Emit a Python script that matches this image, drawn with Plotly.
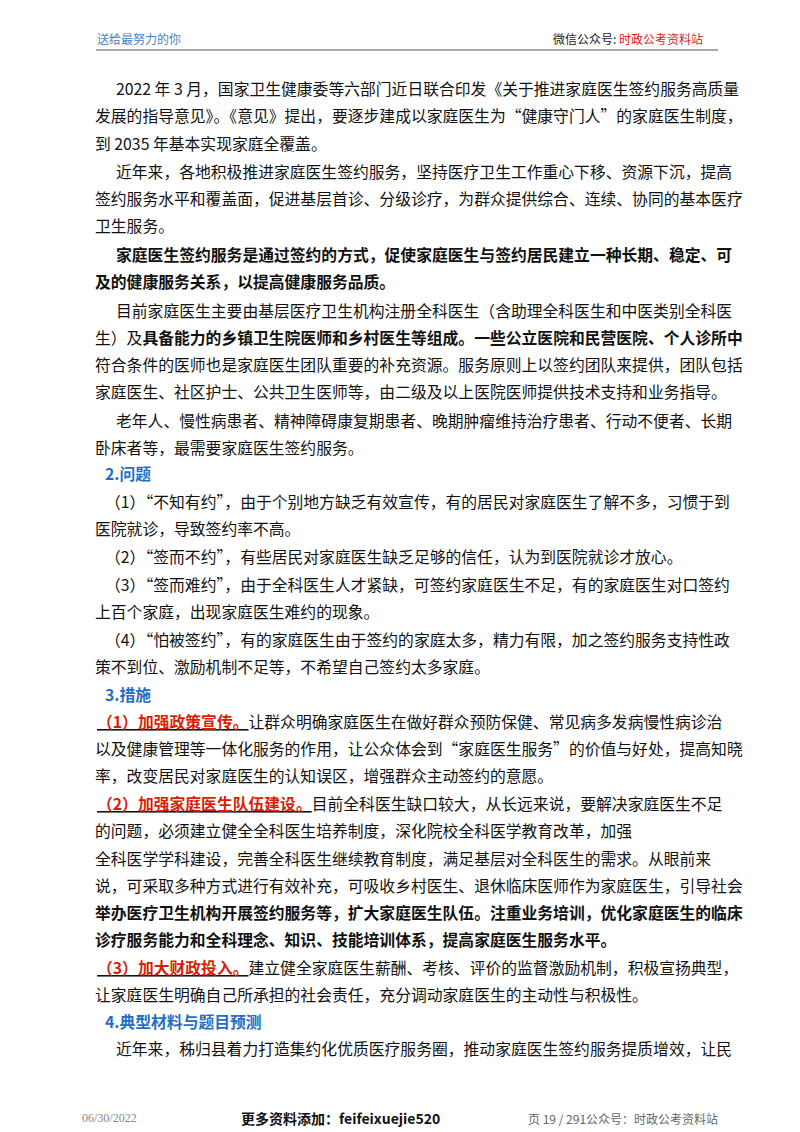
import plotly.graph_objects as go

header_left = "送给最努力的你"
header_right = "微信公众号: <span style='color:#e0201b'>时政公考资料站</span>"
footer_date = "06/30/2022"
footer_mid = "<b>更多资料添加：feifeixuejie520</b>"
footer_right = "页 19 / 291公众号：时政公考资料站"

RED = "#d81e06"
BLUE = "#1f6fc5"

def red(s):
    return f"<b><u><span style='color:{RED}'>{s}</span></u></b>"

body_lines = [
    "2022 年 3 月，国家卫生健康委等六部门近日联合印发《关于推进家庭医生签约服务高质量",
    "发展的指导意见》。《意见》提出，要逐步建成以家庭医生为“健康守门人”的家庭医生制度，",
    "到 2035 年基本实现家庭全覆盖。",
    "近年来，各地积极推进家庭医生签约服务，坚持医疗卫生工作重心下移、资源下沉，提高",
    "签约服务水平和覆盖面，促进基层首诊、分级诊疗，为群众提供综合、连续、协同的基本医疗",
    "卫生服务。",
    "<b>家庭医生签约服务是通过签约的方式，促使家庭医生与签约居民建立一种长期、稳定、可</b>",
    "<b>及的健康服务关系，以提高健康服务品质。</b>",
    "目前家庭医生主要由基层医疗卫生机构注册全科医生（含助理全科医生和中医类别全科医",
    "生）及<b>具备能力的乡镇卫生院医师和乡村医生等组成。一些公立医院和民营医院、个人诊所中</b>",
    "符合条件的医师也是家庭医生团队重要的补充资源。服务原则上以签约团队来提供，团队包括",
    "家庭医生、社区护士、公共卫生医师等，由二级及以上医院医师提供技术支持和业务指导。",
    "老年人、慢性病患者、精神障碍康复期患者、晚期肿瘤维持治疗患者、行动不便者、长期",
    "卧床者等，最需要家庭医生签约服务。",
    f"<b><span style='color:{BLUE}'>2.问题</span></b>",
    "（1）“不知有约”，由于个别地方缺乏有效宣传，有的居民对家庭医生了解不多，习惯于到",
    "医院就诊，导致签约率不高。",
    "（2）“签而不约”，有些居民对家庭医生缺乏足够的信任，认为到医院就诊才放心。",
    "（3）“签而难约”，由于全科医生人才紧缺，可签约家庭医生不足，有的家庭医生对口签约",
    "上百个家庭，出现家庭医生难约的现象。",
    "（4）“怕被签约”，有的家庭医生由于签约的家庭太多，精力有限，加之签约服务支持性政",
    "策不到位、激励机制不足等，不希望自己签约太多家庭。",
    f"<b><span style='color:{BLUE}'>3.措施</span></b>",
    red("（1）加强政策宣传。") + "让群众明确家庭医生在做好群众预防保健、常见病多发病慢性病诊治",
    "以及健康管理等一体化服务的作用，让公众体会到“家庭医生服务”的价值与好处，提高知晓",
    "率，改变居民对家庭医生的认知误区，增强群众主动签约的意愿。",
    red("（2）加强家庭医生队伍建设。") + "目前全科医生缺口较大，从长远来说，要解决家庭医生不足",
    "的问题，必须建立健全全科医生培养制度，深化院校全科医学教育改革，加强",
    "全科医学学科建设，完善全科医生继续教育制度，满足基层对全科医生的需求。从眼前来",
    "说，可采取多种方式进行有效补充，可吸收乡村医生、退休临床医师作为家庭医生，引导社会",
    "<b>举办医疗卫生机构开展签约服务等，扩大家庭医生队伍。注重业务培训，优化家庭医生的临床</b>",
    "<b>诊疗服务能力和全科理念、知识、技能培训体系，提高家庭医生服务水平。</b>",
    red("（3）加大财政投入。") + "建立健全家庭医生薪酬、考核、评价的监督激励机制，积极宣扬典型，",
    "让家庭医生明确自己所承担的社会责任，充分调动家庭医生的主动性与积极性。",
    f"<b><span style='color:{BLUE}'>4.典型材料与题目预测</span></b>",
    "近年来，秭归县着力打造集约化优质医疗服务圈，推动家庭医生签约服务提质增效，让民",
]
body_y = [80, 107, 135, 163, 190, 217, 246, 273, 302, 329, 356, 383, 412, 439,
          465, 493, 520, 548, 576, 603, 631, 658, 686, 713, 740, 767, 795, 822,
          850, 877, 904, 931, 959, 986, 1013, 1040]
body_x = [115, 94, 94, 115, 94, 94, 115, 94, 115, 94, 94, 94, 115, 94,
          104, 104, 94, 104, 104, 94, 104, 94, 104, 96, 94, 94, 96, 94,
          94, 94, 94, 94, 96, 94, 104, 115]
DX = -9

fig = go.Figure()
fig.update_layout(
    width=800, height=1132, margin=dict(l=0, r=0, t=0, b=0),
    paper_bgcolor="white", plot_bgcolor="white", showlegend=False,
    xaxis=dict(range=[0, 800], visible=False, fixedrange=True),
    yaxis=dict(range=[1132, 0], visible=False, fixedrange=True),
    font=dict(family="Noto Sans CJK SC", color="#111111"),
)

anns = []
for t, x, y in zip(body_lines, body_x, body_y):
    anns.append(dict(x=x + DX, y=y, text=t, xref="x", yref="y", showarrow=False,
                     xanchor="left", yanchor="middle",
                     font=dict(size=15.8, family="Noto Sans CJK SC", color="#111111")))

extra = [
    dict(x=95 - 8, y=30, text=header_left, font=dict(size=12, color="#4a7fc1")),
    dict(x=705 - 8, y=30, text=header_right, xanchor="right", font=dict(size=12, color="#222")),
    dict(x=80 - 8, y=1110, text=footer_date, font=dict(size=12, color="#888", family="Liberation Serif")),
    dict(x=340 - 8, y=1110, text=footer_mid, xanchor="center", font=dict(size=14, color="#111")),
    dict(x=720 - 8, y=1110, text=footer_right, xanchor="right", font=dict(size=12, color="#666")),
]
for a in extra:
    a.update(xref="x", yref="y", showarrow=False, yanchor="middle")
    a.setdefault("xanchor", "left")
anns += extra
fig.update_layout(annotations=anns)
fig.add_shape(type="line", x0=88, x1=710, y0=42, y1=42, xref="x", yref="y",
              line=dict(color="#555", width=1))

fig.write_html("out.html")
